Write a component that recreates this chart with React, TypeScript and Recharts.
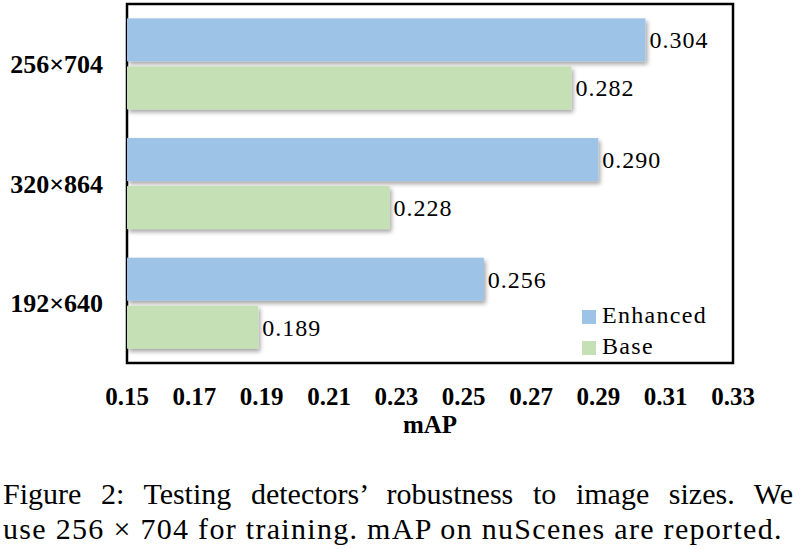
import { BarChart, Bar, XAxis, YAxis, Legend, LabelList, ReferenceArea } from 'recharts'

const categories = ['256×704', '320×864', '192×640']
const enhanced = [0.304, 0.29, 0.256]
const base = [0.282, 0.228, 0.189]
const xTicks = [0.15, 0.17, 0.19, 0.21, 0.23, 0.25, 0.27, 0.29, 0.31, 0.33]

const data = categories.map((name, i) => ({ name, enhanced: enhanced[i], base: base[i] }))

const serif = '"Liberation Serif", "Times New Roman", serif'

const ShadowBar = (props: any) => {
  const { x, y, width, height, fill } = props
  if (!width || width <= 0) return null
  return <rect x={x} y={y} width={width} height={height} fill={fill} filter="url(#barShadow)" />
}

const legendOrder: Record<string, number> = { Enhanced: 0, Base: 1 }

export default function App() {
  return (
    <div style={{ position: 'absolute', left: 0, top: 0, width: 802, height: 549, background: '#fff', fontFamily: serif }}>
      <BarChart
        width={802}
        height={450}
        data={data}
        layout="vertical"
        margin={{ top: 4, right: 69, left: 0, bottom: 0 }}
        barCategoryGap="12%"
        barGap={5}
      >
        <defs>
          <filter id="barShadow" x="-5%" y="-20%" width="115%" height="160%">
            <feDropShadow dx="2" dy="3" stdDeviation="2" floodColor="#000" floodOpacity="0.35" />
          </filter>
        </defs>
        <XAxis
          type="number"
          domain={[0.15, 0.33]}
          ticks={xTicks}
          tickFormatter={(v: number) => v.toFixed(2)}
          height={87}
          axisLine={false}
          tickLine={false}
          tickSize={0}
          tickMargin={24}
          tick={{ fontSize: 25, fontWeight: 'bold', fill: '#000', fontFamily: serif }}
          label={{ value: 'mAP', position: 'insideBottom', offset: 17, fontSize: 25, fontWeight: 'bold', fill: '#000', fontFamily: serif }}
        />
        <YAxis
          type="category"
          dataKey="name"
          width={127}
          axisLine={false}
          tickLine={false}
          tickSize={0}
          tickMargin={24}
          tick={{ fontSize: 26, fontWeight: 'bold', fill: '#000', fontFamily: serif }}
        />
        <ReferenceArea x1={0.15} x2={0.33} fill="none" stroke="#000" strokeWidth={2.5} fillOpacity={0} />
        <Bar dataKey="enhanced" name="Enhanced" fill="#9dc3e6" shape={ShadowBar} isAnimationActive={false}>
          <LabelList dataKey="enhanced" position="right" offset={4} formatter={(v: any) => Number(v).toFixed(3)} style={{ fontSize: 24, letterSpacing: 1, fill: '#000', fontFamily: serif }} />
        </Bar>
        <Bar dataKey="base" name="Base" fill="#c5e0b4" shape={ShadowBar} isAnimationActive={false}>
          <LabelList dataKey="base" position="right" offset={4} formatter={(v: any) => Number(v).toFixed(3)} style={{ fontSize: 24, letterSpacing: 1, fill: '#000', fontFamily: serif }} />
        </Bar>
        <Legend
          layout="vertical"
          align="center"
          verticalAlign="middle"
          iconType="square"
          iconSize={14}
          itemSorter={(item: any) => legendOrder[item.value] ?? 9}
          wrapperStyle={{ position: 'absolute', left: 582, top: 300, width: 'auto', fontSize: 24, fontFamily: serif, lineHeight: '31px', textAlign: 'left' }}
          formatter={(value: string) => <span style={{ color: '#000', marginLeft: 2, letterSpacing: 1.3 }}>{value}</span>}
        />
      </BarChart>
      <div
        style={{
          position: 'absolute',
          left: 3,
          top: 476,
          width: 790,
          fontSize: 30,
          lineHeight: '35px',
          color: '#000',
        }}
      >
        <div style={{ textAlign: 'justify', textAlignLast: 'justify' }}>
          Figure 2: Testing detectors’ robustness to image sizes. We
        </div>
        <div style={{ letterSpacing: 1.3, whiteSpace: 'nowrap' }}>
          use 256 × 704 for training. mAP on nuScenes are reported.
        </div>
      </div>
    </div>
  )
}
